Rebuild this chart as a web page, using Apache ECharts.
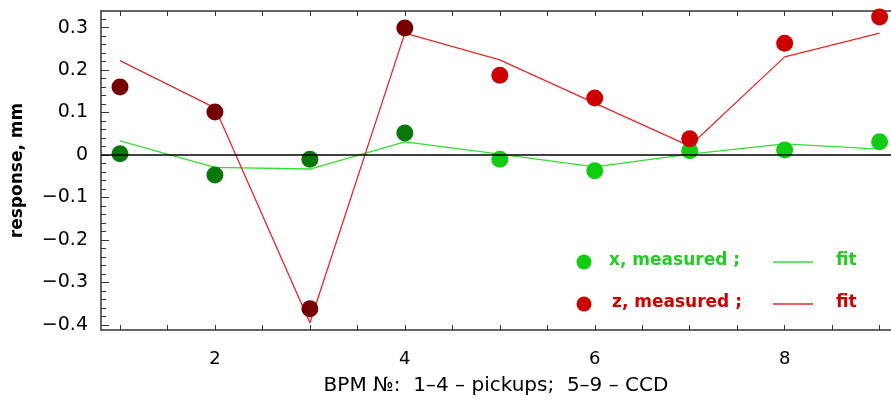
<!DOCTYPE html>
<html><head><meta charset="utf-8">
<script src="https://cdn.jsdelivr.net/npm/echarts@6/dist/echarts.min.js"></script>
<style>html,body{margin:0;padding:0;background:#fff}#c{width:891px;height:405px}</style>
</head><body><div id="c"></div>
<script>
var bpm = [1,2,3,4,5,6,7,8,9];
var xMeasured = [0.003,-0.047,-0.010,0.052,-0.010,-0.037,0.010,0.012,0.031];
var xFit = [0.033,-0.029,-0.033,0.031,0.002,-0.028,0.002,0.026,0.014];
var zMeasured = [0.160,0.101,-0.362,0.299,0.188,0.134,0.038,0.263,0.325];
var zFit = [0.222,0.111,-0.395,0.287,0.224,0.122,0.021,0.231,0.287];
var yLabels = [-0.4,-0.3,-0.2,-0.1,0,0.1,0.2,0.3];
var xLabels = [2,4,6,8];

var yMinor = []; for (var v=-40; v<=34; v+=2) yMinor.push(v/100);
var xMinor = []; for (var u=2; u<=18; u++) xMinor.push(u/2);

function pts(vals, dark, light){
  return bpm.map(function(b,i){return {value:[b,vals[i]], itemStyle:{color: b<=4?dark:light, opacity:1}};});
}
function line(vals){ return bpm.map(function(b,i){return [b,vals[i]];}); }

var font = 'DejaVu Sans';
var chart = echarts.init(document.getElementById('c'));
var xBase = {type:'value', min:0.8, max:9.12, splitLine:{show:false}, axisLine:{onZero:false, lineStyle:{color:'#333',width:1.5}}};
var yBase = {type:'value', min:-0.412, max:0.339, splitLine:{show:false}, axisLine:{onZero:false, lineStyle:{color:'#333',width:1.5}}};
chart.setOption({
  animation:false,
  grid:{left:101, top:11, right:0, bottom:75, outerBoundsMode:'none', containLabel:false},
  xAxis:[
    Object.assign({}, xBase, {position:'bottom',
      name:'BPM №:  1–4 – pickups;  5–9 – CCD', nameLocation:'middle', nameGap:46,
      nameTextStyle:{fontFamily:font, fontSize:20, color:'#000'},
      axisTick:{inside:true, length:5, customValues:xMinor, lineStyle:{color:'#333'}},
      axisLabel:{customValues:xLabels, fontFamily:font, fontSize:18, color:'#000', margin:20}}),
    Object.assign({}, xBase, {position:'top',
      axisTick:{inside:true, length:5, customValues:xMinor, lineStyle:{color:'#333'}},
      axisLabel:{show:false}})
  ],
  yAxis:[
    Object.assign({}, yBase, {
      name:'response, mm', nameLocation:'middle', nameGap:75,
      nameTextStyle:{fontFamily:font, fontSize:17, fontWeight:'bold', color:'#000'},
      axisTick:{inside:true, length:8, customValues:yLabels, lineStyle:{color:'#333'}},
      axisLabel:{customValues:yLabels, fontFamily:font, fontSize:19, color:'#000', margin:13,
        formatter:function(v){var s=(Math.round(v*10)/10).toString(); return s.replace('-','−');}}}),
    Object.assign({}, yBase, {position:'left', axisLine:{show:false},
      axisTick:{inside:true, length:5, customValues:yMinor, lineStyle:{color:'#333'}},
      axisLabel:{show:false}})
  ],
  series:[
    {type:'line', data:line(xFit), symbol:'none', lineStyle:{color:'#33dd33', width:1.3}, z:2,
      markLine:{silent:true, symbol:'none', label:{show:false}, lineStyle:{color:'#000', width:1.5, type:'solid'}, data:[{yAxis:0}]}},
    {type:'line', data:line(zFit), symbol:'none', lineStyle:{color:'#e82828', width:1.3}, z:2},
    {type:'scatter', data:pts(xMeasured,'#087808','#11cc11'), symbolSize:17, z:3},
    {type:'scatter', data:pts(zMeasured,'#740000','#cc0000'), symbolSize:17, z:3}
  ],
  graphic:[
    {type:'circle', shape:{cx:584, cy:262, r:7.5}, style:{fill:'#11cc11'}},
    {type:'text', left:609, top:252, style:{text:'x, measured ;', fill:'#22cc22', font:'bold 17px '+font}},
    {type:'line', shape:{x1:773, y1:262, x2:813, y2:262}, style:{stroke:'#33dd33', lineWidth:1.3}},
    {type:'text', left:836, top:252, style:{text:'fit', fill:'#22cc22', font:'bold 17px '+font}},
    {type:'circle', shape:{cx:584, cy:304, r:7.5}, style:{fill:'#cc0000'}},
    {type:'text', left:612, top:294, style:{text:'z, measured ;', fill:'#cc0000', font:'bold 17px '+font}},
    {type:'line', shape:{x1:773, y1:304, x2:813, y2:304}, style:{stroke:'#e82828', lineWidth:1.3}},
    {type:'text', left:836, top:294, style:{text:'fit', fill:'#cc0000', font:'bold 17px '+font}}
  ]
});
</script></body></html>
